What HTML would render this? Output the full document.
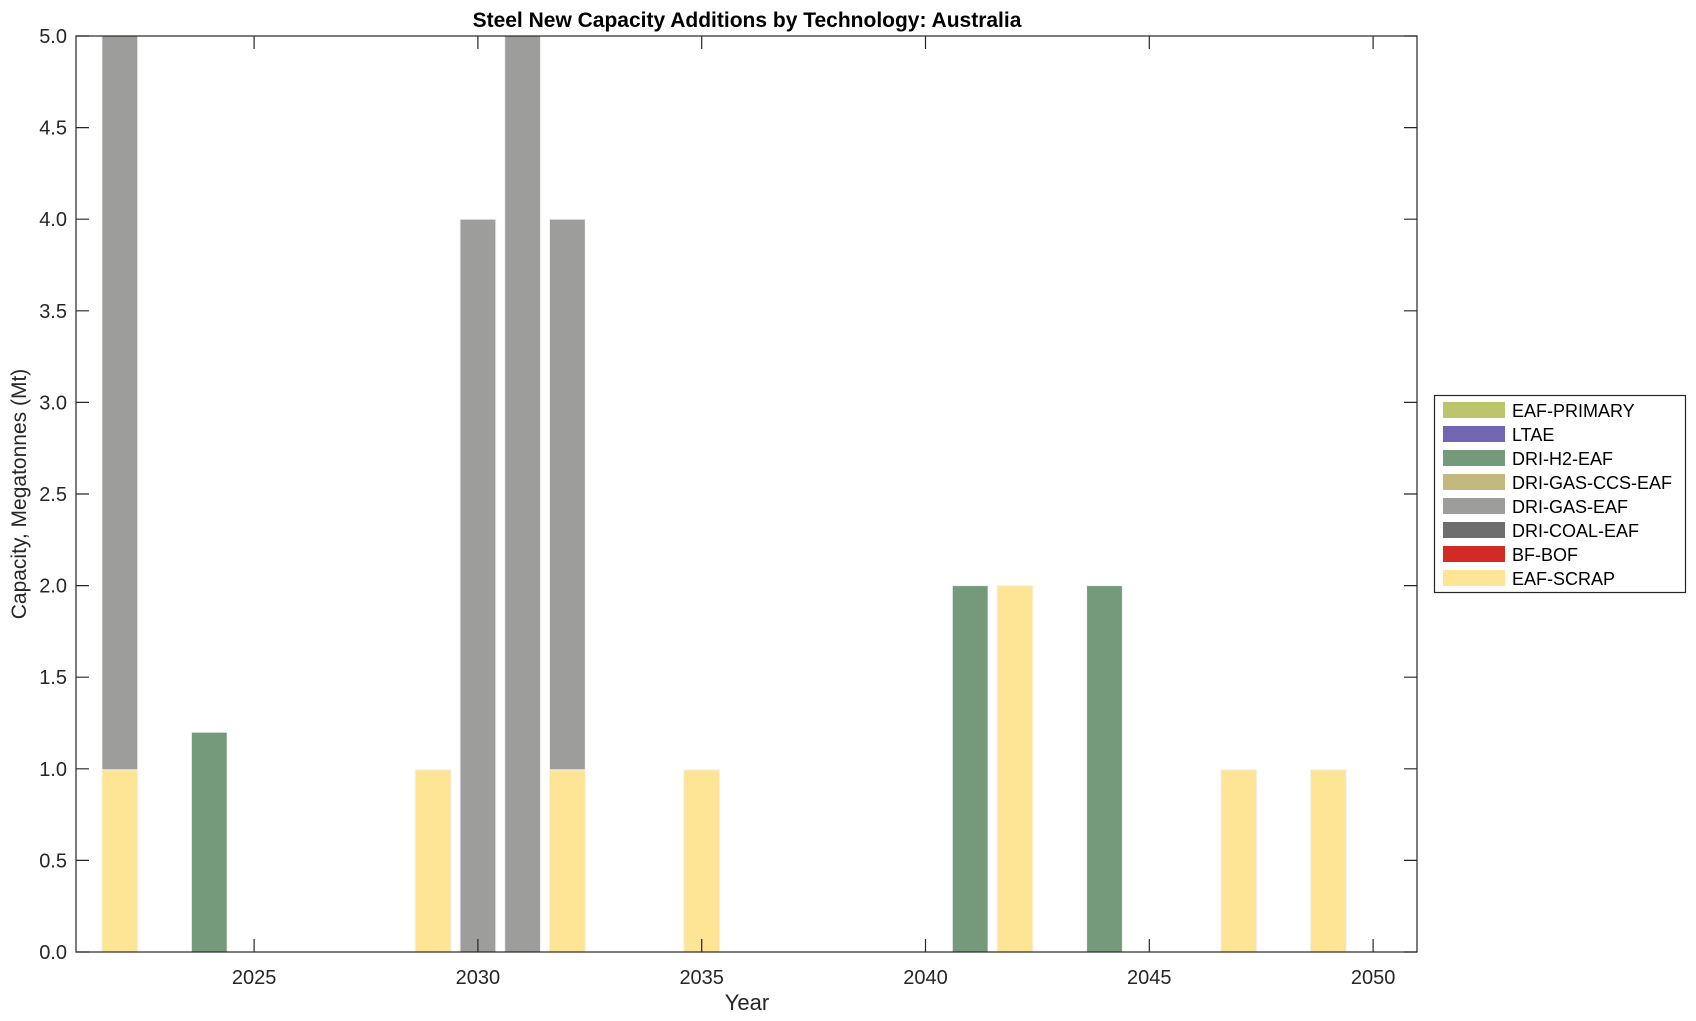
<!DOCTYPE html>
<html><head><style>
html,body{margin:0;padding:0;background:#fff;}
svg{display:block;font-family:"Liberation Sans",Arial,sans-serif;}
</style></head><body>
<svg width="1696" height="1021" viewBox="0 0 1696 1021">
<rect width="1696" height="1021" fill="#fff"/>
<g stroke="#f2f2f2" stroke-width="1">
<rect x="101.9" y="769.8" width="35.8" height="182.2" fill="#fee495"/>
<rect x="101.9" y="36" width="35.8" height="733.8" fill="#9d9d9b"/>
<rect x="191.4" y="732.2" width="35.8" height="219.8" fill="#74997b"/>
<rect x="415.2" y="769.8" width="35.8" height="182.2" fill="#fee495"/>
<rect x="460.0" y="219.2" width="35.8" height="732.8" fill="#9d9d9b"/>
<rect x="504.7" y="36" width="35.8" height="916" fill="#9d9d9b"/>
<rect x="549.5" y="769.8" width="35.8" height="182.2" fill="#fee495"/>
<rect x="549.5" y="219.2" width="35.8" height="550.6" fill="#9d9d9b"/>
<rect x="683.8" y="769.8" width="35.8" height="182.2" fill="#fee495"/>
<rect x="952.3" y="585.6" width="35.8" height="366.4" fill="#74997b"/>
<rect x="997.1" y="585.6" width="35.8" height="366.4" fill="#fee495"/>
<rect x="1086.6" y="585.6" width="35.8" height="366.4" fill="#74997b"/>
<rect x="1220.9" y="769.8" width="35.8" height="182.2" fill="#fee495"/>
<rect x="1310.4" y="769.8" width="35.8" height="182.2" fill="#fee495"/>
</g>
<g stroke="#262626" stroke-width="1.2" fill="none">
<rect x="76" y="36" width="1341" height="916"/>
<path d="M254.1 952v-13M254.1 36v13M477.9 952v-13M477.9 36v13M701.7 952v-13M701.7 36v13M925.5 952v-13M925.5 36v13M1149.3 952v-13M1149.3 36v13M1373.1 952v-13M1373.1 36v13"/>
<path d="M76 952h13M1417 952h-13M76 860.4h13M1417 860.4h-13M76 768.8h13M1417 768.8h-13M76 677.2h13M1417 677.2h-13M76 585.6h13M1417 585.6h-13M76 494h13M1417 494h-13M76 402.4h13M1417 402.4h-13M76 310.8h13M1417 310.8h-13M76 219.2h13M1417 219.2h-13M76 127.6h13M1417 127.6h-13M76 36h13M1417 36h-13"/>
</g>
<g fill="#262626" font-size="20" text-anchor="middle">
<text x="254.1" y="984">2025</text><text x="477.9" y="984">2030</text><text x="701.7" y="984">2035</text><text x="925.5" y="984">2040</text><text x="1149.3" y="984">2045</text><text x="1373.1" y="984">2050</text>
</g>
<g fill="#262626" font-size="20" text-anchor="end">
<text x="67" y="959">0.0</text><text x="67" y="867.4">0.5</text><text x="67" y="775.8">1.0</text><text x="67" y="684.2">1.5</text><text x="67" y="592.6">2.0</text><text x="67" y="501">2.5</text><text x="67" y="409.4">3.0</text><text x="67" y="317.8">3.5</text><text x="67" y="226.2">4.0</text><text x="67" y="134.6">4.5</text><text x="67" y="43">5.0</text>
</g>
<text x="747" y="1010" font-size="22" fill="#262626" text-anchor="middle">Year</text>
<text transform="translate(26,494) rotate(-90)" font-size="21" fill="#262626" text-anchor="middle">Capacity, Megatonnes (Mt)</text>
<text x="747" y="27" font-size="21" font-weight="bold" fill="#000" text-anchor="middle">Steel New Capacity Additions by Technology: Australia</text>
<rect x="1434.5" y="395.5" width="251" height="197" fill="#fff" stroke="#262626" stroke-width="1.2"/>
<g font-size="18" fill="#000">
<rect x="1443" y="402" width="62" height="16" fill="#bcc46c"/><text x="1512" y="417">EAF-PRIMARY</text>
<rect x="1443" y="426" width="62" height="16" fill="#7265b4"/><text x="1512" y="441">LTAE</text>
<rect x="1443" y="450" width="62" height="16" fill="#74997b"/><text x="1512" y="465">DRI-H2-EAF</text>
<rect x="1443" y="474" width="62" height="16" fill="#c3b87d"/><text x="1512" y="489">DRI-GAS-CCS-EAF</text>
<rect x="1443" y="498" width="62" height="16" fill="#9d9d9b"/><text x="1512" y="513">DRI-GAS-EAF</text>
<rect x="1443" y="522" width="62" height="16" fill="#6e6e6e"/><text x="1512" y="537">DRI-COAL-EAF</text>
<rect x="1443" y="546" width="62" height="16" fill="#d22b25"/><text x="1512" y="561">BF-BOF</text>
<rect x="1443" y="570" width="62" height="16" fill="#fee495"/><text x="1512" y="585">EAF-SCRAP</text>
</g>
</svg>
</body></html>
